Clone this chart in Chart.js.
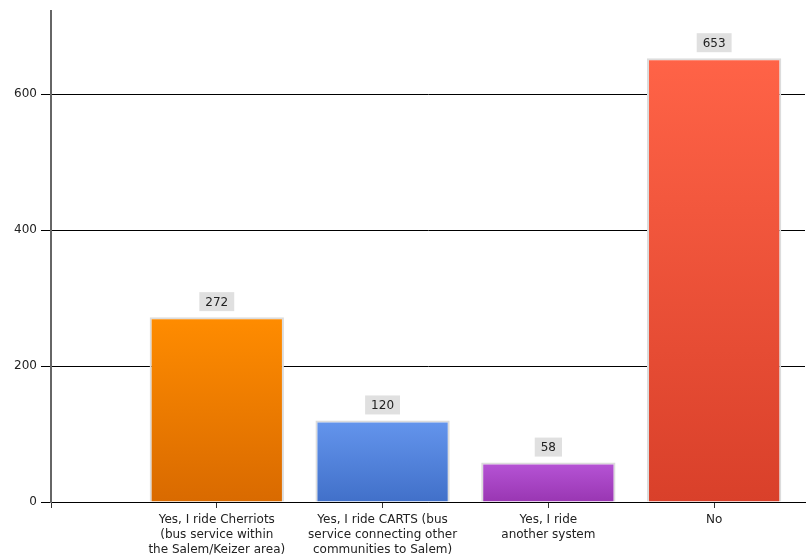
<!DOCTYPE html>
<html>
<head>
<meta charset="utf-8">
<script src="https://cdn.jsdelivr.net/npm/chart.js@4.4.1/dist/chart.umd.min.js"></script>
<style>
  html, body { margin: 0; padding: 0; background: #fff; }
  #wrap { width: 809px; height: 557px; }
</style>
</head>
<body>
<div id="wrap"><canvas id="rideChart"></canvas></div>
<script>
// Survey answers and counts
const answers = [
    ['Yes, I ride Cherriots', '(bus service within', 'the Salem/Keizer area)'],
    ['Yes, I ride CARTS (bus', 'service connecting other', 'communities to Salem)'],
    ['Yes, I ride', 'another system'],
    ['No']
];
const counts = [272, 120, 58, 653];
const yTicks = [0, 200, 400, 600];

// Bar colours, light at the top and darker at the base
const topColors = ['#ff8c00', '#6495ed', '#b654d6', '#ff6347'];
const baseColors = ['#d96a00', '#4170c9', '#9936b2', '#d9402a'];

const font = { family: 'DejaVu Sans, sans-serif', size: 12, lineHeight: 1.22 };

function barGradient(context) {
    const chart = context.chart;
    const i = context.dataIndex;
    const y = chart.scales.y;
    if (!chart.chartArea || !y) return topColors[i];
    const top = y.getPixelForValue(counts[i]);
    const bottom = y.getPixelForValue(0);
    const g = chart.ctx.createLinearGradient(0, top, 0, bottom);
    g.addColorStop(0, topColors[i]);
    g.addColorStop(1, baseColors[i]);
    return g;
}

// Grey value box above each bar
const valueBoxes = {
    id: 'valueBoxes',
    afterDatasetsDraw(chart) {
        const ctx = chart.ctx;
        const meta = chart.getDatasetMeta(0);
        ctx.save();
        ctx.font = font.size + 'px ' + font.family;
        ctx.textAlign = 'center';
        ctx.textBaseline = 'middle';
        meta.data.forEach((bar, i) => {
            const text = String(counts[i]);
            const w = ctx.measureText(text).width + 12;
            const h = 19;
            const bottom = bar.y - 6;
            ctx.fillStyle = '#e0e0e0';
            ctx.fillRect(bar.x - w / 2, bottom - h, w, h);
            ctx.fillStyle = '#222';
            ctx.fillText(text, bar.x, bottom - h / 2 + 1);
        });
        ctx.restore();
    }
};

const ctx = document.getElementById('rideChart').getContext('2d');
new Chart(ctx, {
    type: 'bar',
    data: {
        datasets: [{
            data: counts.map((v, i) => ({ x: i + 1, y: v })),
            backgroundColor: barGradient,
            borderColor: '#dcdcdc',
            borderWidth: 2,
            borderSkipped: 'bottom',
            barPercentage: 0.81,
            categoryPercentage: 1
        }]
    },
    options: {
        responsive: true,
        maintainAspectRatio: false,
        animation: false,
        layout: { padding: { top: 11, right: 4, left: 0, bottom: 0 } },
        plugins: {
            legend: { display: false },
            tooltip: { enabled: false }
        },
        scales: {
            x: {
                type: 'linear',
                offset: false,
                min: 0,
                max: 4.548,
                afterBuildTicks: scale => {
                    scale.ticks = [0, 1, 2, 3, 4].map(v => ({ value: v }));
                },
                afterFit: scale => { scale.height = 55; },
                grid: {
                    offset: false,
                    drawOnChartArea: false,
                    drawTicks: true,
                    tickLength: 6,
                    color: '#333'
                },
                border: { color: '#000', width: 1 },
                ticks: {
                    autoSkip: false,
                    maxRotation: 0,
                    padding: 5,
                    color: '#222',
                    font: font,
                    callback: value => (value >= 1 && value <= 4 ? answers[value - 1] : '')
                }
            },
            y: {
                min: 0,
                max: 722,
                afterBuildTicks: scale => {
                    scale.ticks = yTicks.map(v => ({ value: v }));
                },
                afterFit: scale => { scale.width = 51; },
                grid: {
                    color: '#000',
                    lineWidth: 1,
                    tickLength: 10
                },
                border: { color: '#666', width: 2 },
                ticks: {
                    padding: 4,
                    color: '#222',
                    font: font
                }
            }
        }
    },
    plugins: [valueBoxes]
});
</script>
</body>
</html>
